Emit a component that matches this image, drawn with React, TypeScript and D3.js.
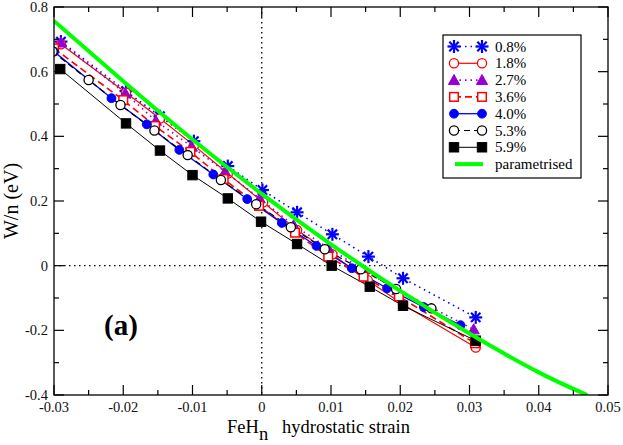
import React from "react";
import * as d3 from "d3";

// ---- data ----
const s08X = [-0.029, -0.0196, -0.0147, -0.0098, -0.0049, 0.0001, 0.0051, 0.0102, 0.0154, 0.0204, 0.0309];
const s08Y = [0.693, 0.540, 0.462, 0.385, 0.308, 0.234, 0.165, 0.097, 0.028, -0.039, -0.160];

const s18X = [-0.029, -0.0196, -0.0147, -0.0098, -0.0049, 0.0002, 0.0051, 0.0102, 0.0153, 0.0204, 0.0309];
const s18Y = [0.685, 0.535, 0.455, 0.372, 0.285, 0.196, 0.110, 0.035, -0.045, -0.120, -0.253];

const s27X = [-0.029, -0.0197, -0.0153, -0.0101, -0.0053, -0.0003, 0.0046, 0.0096, 0.0146, 0.0196, 0.0306];
const s27Y = [0.690, 0.533, 0.448, 0.368, 0.291, 0.208, 0.125, 0.055, -0.012, -0.075, -0.197];

const s36X = [-0.030, -0.0200, -0.0154, -0.0103, -0.0055, -0.0004, 0.0048, 0.0096, 0.0147, 0.0198, 0.0308];
const s36Y = [0.672, 0.512, 0.432, 0.352, 0.268, 0.185, 0.102, 0.028, -0.034, -0.095, -0.240];

const s40X = [-0.0300, -0.0217, -0.0166, -0.0119, -0.0070, -0.0021, 0.0029, 0.0079, 0.0130, 0.0181, 0.0234, 0.0287];
const s40Y = [0.662, 0.518, 0.437, 0.358, 0.282, 0.206, 0.132, 0.061, -0.008, -0.070, -0.128, -0.184];

const s53X = [-0.0302, -0.0250, -0.0204, -0.0155, -0.0107, -0.0059, -0.0008, 0.0042, 0.0091, 0.0143, 0.0194, 0.0245];
const s53Y = [0.662, 0.574, 0.497, 0.418, 0.342, 0.265, 0.190, 0.119, 0.051, -0.011, -0.072, -0.132];

const s59X = [-0.0291, -0.0196, -0.0147, -0.0100, -0.0049, -0.0001, 0.0051, 0.0101, 0.0156, 0.0204, 0.0309];
const s59Y = [0.608, 0.440, 0.356, 0.280, 0.208, 0.136, 0.067, 0.000, -0.065, -0.124, -0.232];

const paramX = [-0.03, -0.02, -0.01, 0, 0.01, 0.02, 0.03, 0.04, 0.047];
const paramY = [0.757, 0.570, 0.390, 0.222, 0.066, -0.078, -0.210, -0.330, -0.400];

const seriesLabels = ["0.8%", "1.8%", "2.7%", "3.6%", "4.0%", "5.3%", "5.9%"];
const xMajorTicks = [-0.03, -0.02, -0.01, 0, 0.01, 0.02, 0.03, 0.04, 0.05];
const xTickLabels = ["-0.03", "-0.02", "-0.01", "0", "0.01", "0.02", "0.03", "0.04", "0.05"];
const yMajorTicks = [-0.4, -0.2, 0, 0.2, 0.4, 0.6, 0.8];
const yTickLabels = ["-0.4", "-0.2", "0", "0.2", "0.4", "0.6", "0.8"];

// ---- styles ----
type MarkerKind = "star" | "ocircle" | "triangle" | "osquare" | "fcircle" | "fsquare";
const styles: { color: string; dash: string; marker: MarkerKind; width: number }[] = [
  { color: "#0000ff", dash: "1.5,4", marker: "star", width: 1.6 },
  { color: "#ff0000", dash: "", marker: "ocircle", width: 1.2 },
  { color: "#9400d3", dash: "1.5,4", marker: "triangle", width: 1.6 },
  { color: "#ff0000", dash: "7,4", marker: "osquare", width: 1.6 },
  { color: "#0000ff", dash: "", marker: "fcircle", width: 1.3 },
  { color: "#000000", dash: "6,4", marker: "ocircle", width: 1.2 },
  { color: "#000000", dash: "", marker: "fsquare", width: 1.0 },
];
const seriesData = [
  [s08X, s08Y],
  [s18X, s18Y],
  [s27X, s27Y],
  [s36X, s36Y],
  [s40X, s40Y],
  [s53X, s53Y],
  [s59X, s59Y],
];

const W = 623, H = 445;
const L = 54, R = 608, T = 7, B = 395;
const FONT = "Liberation Serif, Times New Roman, DejaVu Serif, serif";

function Marker({ kind, x, y, color }: { kind: MarkerKind; x: number; y: number; color: string }) {
  switch (kind) {
    case "star": {
      const r = 6.5;
      const d = r * 0.72;
      return (
        <g stroke={color} strokeWidth={2.2}>
          <line x1={x - r} y1={y} x2={x + r} y2={y} />
          <line x1={x} y1={y - r} x2={x} y2={y + r} />
          <line x1={x - d} y1={y - d} x2={x + d} y2={y + d} />
          <line x1={x - d} y1={y + d} x2={x + d} y2={y - d} />
        </g>
      );
    }
    case "ocircle":
      return <circle cx={x} cy={y} r={4.6} fill="white" stroke={color} strokeWidth={1.3} />;
    case "fcircle":
      return <circle cx={x} cy={y} r={4.4} fill={color} stroke={color} strokeWidth={1} />;
    case "triangle": {
      const s = 5.6;
      return <path d={`M${x},${y - s} L${x + s},${y + s * 0.8} L${x - s},${y + s * 0.8} Z`} fill={color} stroke={color} strokeWidth={1} />;
    }
    case "osquare":
      return <rect x={x - 4.3} y={y - 4.3} width={8.6} height={8.6} fill="white" stroke={color} strokeWidth={1.5} />;
    case "fsquare":
      return <rect x={x - 4.7} y={y - 4.7} width={9.4} height={9.4} fill={color} stroke={color} strokeWidth={1} />;
  }
  return null;
}

export default function App() {
  const x = d3.scaleLinear().domain([-0.03, 0.05]).range([L, R]);
  const y = d3.scaleLinear().domain([-0.4, 0.8]).range([B, T]);

  const line = d3.line<[number, number]>().x((d) => x(d[0])).y((d) => y(d[1]));
  const smooth = d3
    .line<[number, number]>()
    .x((d) => x(d[0]))
    .y((d) => y(d[1]))
    .curve(d3.curveNatural);

  const xMinor = d3.range(-0.025, 0.05, 0.01);
  const yMinor = d3.range(-0.3, 0.8, 0.2);

  const legX0 = 454, legX1 = 482, legTextX = 495, legY0 = 46.5, legDy = 16.8;

  return (
    <svg width={W} height={H} style={{ position: "absolute", left: 0, top: 0, background: "white", fontFamily: FONT }}>
      <defs>
        <clipPath id="plotclip">
          <rect x={L} y={T} width={R - L} height={B - T} />
        </clipPath>
      </defs>
      <rect x={0} y={0} width={W} height={H} fill="white" />

      {/* zero lines */}
      <line x1={x(0)} x2={x(0)} y1={T} y2={B} stroke="#000" strokeWidth={1.3} strokeDasharray="1.5,3.5" />
      <line x1={L} x2={R} y1={y(0)} y2={y(0)} stroke="#000" strokeWidth={1.3} strokeDasharray="1.5,3.5" />

      {/* series */}
      <g clipPath="url(#plotclip)">
        {seriesData.map(([xs, ys], i) => {
          const pts = xs.map((v, k) => [v, ys[k]] as [number, number]);
          const st = styles[i];
          return (
            <path key={"l" + i} d={line(pts) || ""} fill="none" stroke={st.color} strokeWidth={st.width} strokeDasharray={st.dash || undefined} />
          );
        })}
        {seriesData.map(([xs, ys], i) => {
          const st = styles[i];
          return (
            <g key={"m" + i}>
              {xs.map((v, k) => (
                <Marker key={k} kind={st.marker} x={x(v)} y={y(ys[k])} color={st.color} />
              ))}
            </g>
          );
        })}
        <path
          d={smooth(paramX.map((v, k) => [v, paramY[k]] as [number, number])) || ""}
          fill="none"
          stroke="#00ff00"
          strokeWidth={4}
        />
      </g>

      {/* frame */}
      <rect x={L} y={T} width={R - L} height={B - T} fill="none" stroke="#000" strokeWidth={1.3} />

      {/* ticks */}
      <g stroke="#000" strokeWidth={1.2}>
        {xMajorTicks.map((t, i) => (
          <g key={"xt" + i}>
            <line x1={x(t)} x2={x(t)} y1={B} y2={B - 10} />
            <line x1={x(t)} x2={x(t)} y1={T} y2={T + 10} />
          </g>
        ))}
        {xMinor.map((t, i) => (
          <g key={"xm" + i}>
            <line x1={x(t)} x2={x(t)} y1={B} y2={B - 5} />
            <line x1={x(t)} x2={x(t)} y1={T} y2={T + 5} />
          </g>
        ))}
        {yMajorTicks.map((t, i) => (
          <g key={"yt" + i}>
            <line x1={L} x2={L + 10} y1={y(t)} y2={y(t)} />
            <line x1={R} x2={R - 10} y1={y(t)} y2={y(t)} />
          </g>
        ))}
        {yMinor.map((t, i) => (
          <g key={"ym" + i}>
            <line x1={L} x2={L + 5} y1={y(t)} y2={y(t)} />
            <line x1={R} x2={R - 5} y1={y(t)} y2={y(t)} />
          </g>
        ))}
      </g>

      {/* tick labels */}
      <g fontSize={14.5} fill="#111">
        {xMajorTicks.map((t, i) => (
          <text key={"xl" + i} x={x(t)} y={412} textAnchor="middle">
            {xTickLabels[i]}
          </text>
        ))}
        {yMajorTicks.map((t, i) => (
          <text key={"yl" + i} x={48} y={y(t) + 5} textAnchor="end">
            {yTickLabels[i]}
          </text>
        ))}
      </g>

      {/* axis labels */}
      <text x={18} y={201} fontSize={20} textAnchor="middle" transform="rotate(-90 18 201)" fill="#000">
        W/n (eV)
      </text>
      <text x={227} y={433} fontSize={18.5} fill="#000">
        FeH
        <tspan dy={7} fontSize={18.5}>n</tspan>
      </text>
      <text x={282} y={433} fontSize={18.5} fill="#000">
        hydrostatic strain
      </text>

      <text x={104} y={335} fontSize={29} fontWeight="bold" fill="#000">
        (a)
      </text>

      {/* legend */}
      <rect x={443} y={35} width={138} height={143} fill="white" stroke="#000" strokeWidth={1.2} />
      {seriesLabels.map((lab, i) => {
        const st = styles[i];
        const cy = legY0 + i * legDy;
        return (
          <g key={"lg" + i}>
            <line x1={legX0} x2={legX1} y1={cy} y2={cy} stroke={st.color} strokeWidth={st.width} strokeDasharray={st.dash || undefined} />
            <Marker kind={st.marker} x={legX0} y={cy} color={st.color} />
            <Marker kind={st.marker} x={legX1} y={cy} color={st.color} />
            <text x={legTextX} y={cy + 5} fontSize={15} fill="#000">
              {lab}
            </text>
          </g>
        );
      })}
      <line x1={455} x2={483} y1={legY0 + 7 * legDy} y2={legY0 + 7 * legDy} stroke="#00ff00" strokeWidth={4} />
      <text x={legTextX} y={legY0 + 7 * legDy + 5} fontSize={15} fill="#000">
        parametrised
      </text>
    </svg>
  );
}
